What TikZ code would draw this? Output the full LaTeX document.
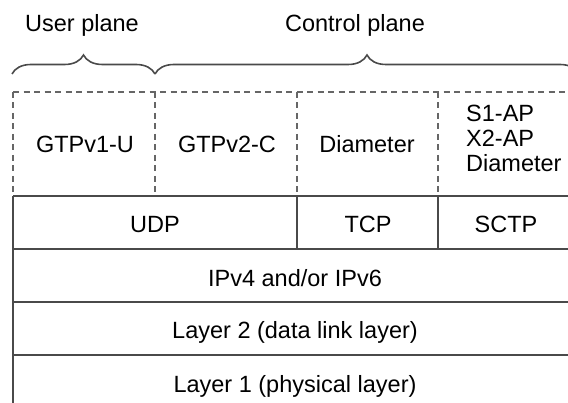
\documentclass[tikz,border=0pt]{standalone}
\usepackage{fontspec}
\setmainfont{Liberation Sans}
\usetikzlibrary{decorations.pathreplacing}
\definecolor{linegray}{HTML}{4A4A4A}
\definecolor{dashgray}{HTML}{666666}
\begin{document}
\begin{tikzpicture}[x=1pt,y=-1pt,
  solidline/.style={draw=linegray, line width=1.8pt},
  dashline/.style={draw=dashgray, line width=1.8pt, dash pattern=on 6pt off 4.5pt},
  lbl/.style={font=\fontsize{23.5}{25}\selectfont, inner sep=0pt, text=black, anchor=base},
  bracestyle/.style={decorate, decoration={brace, amplitude=19pt, aspect=0.5}, draw=linegray, line width=1.6pt}]
\useasboundingbox (0,0) rectangle (568,403);
\clip (0,0) rectangle (568,403);
\fill[white] (0,0) rectangle (568,403);

% key coordinates
\coordinate (bUl) at (12,74);
\coordinate (bUr) at (155,74);
\coordinate (bCr) at (579,74);

\coordinate (t0) at (13,92);  \coordinate (t1) at (155,92);
\coordinate (t2) at (297,92); \coordinate (t3) at (438,92);
\coordinate (tE) at (580,92);
\coordinate (m0) at (13,196); \coordinate (m1) at (155,196);
\coordinate (m2) at (297,196); \coordinate (m3) at (438,196);
\coordinate (mE) at (580,196);
\coordinate (u0) at (13,249); \coordinate (u2) at (297,249);
\coordinate (u3) at (438,249); \coordinate (uE) at (580,249);
\coordinate (i0) at (13,302); \coordinate (iE) at (580,302);
\coordinate (l0) at (13,355); \coordinate (lE) at (580,355);
\coordinate (b0) at (13,410);

% braces
\draw[bracestyle] (bUl) -- (bUr);
\draw[bracestyle] (bUr) -- (bCr);

% dashed application area
\draw[dashline] (t0) -- (tE);
\draw[dashline] (t0) -- (m0);
\draw[dashline] (t1) -- (m1);
\draw[dashline] (t2) -- (m2);
\draw[dashline] (t3) -- (m3);

% solid layers
\draw[solidline] (m0) -- (mE);
\draw[solidline] (u0) -- (uE);
\draw[solidline] (i0) -- (iE);
\draw[solidline] (l0) -- (lE);
\draw[solidline] (m0) -- (b0);
\draw[solidline] (m2) -- (u2);
\draw[solidline] (m3) -- (u3);

% labels
\node[lbl] (user) at (82,32) {User plane};
\node[lbl] (ctrl) at (355,32) {Control plane};
\node[lbl] (gtpu) at (85,153) {GTPv1-U};
\node[lbl] (gtpc) at (227,153) {GTPv2-C};
\node[lbl] (diam) at (367,153) {Diameter};
\node[lbl, anchor=base west] (s1ap) at (466,122) {S1-AP};
\node[lbl, anchor=base west] (x2ap) at (466,147) {X2-AP};
\node[lbl, anchor=base west] (diam2) at (466,172) {Diameter};
\node[lbl] (udp) at (155,233) {UDP};
\node[lbl] (tcp) at (368,233) {TCP};
\node[lbl] (sctp) at (506,233) {SCTP};
\node[lbl] (ip) at (295,287) {IPv4 and/or IPv6};
\node[lbl] (l2) at (295,339) {Layer 2 (data link layer)};
\node[lbl] (l1) at (295,392) {Layer 1 (physical layer)};
\end{tikzpicture}
\end{document}
